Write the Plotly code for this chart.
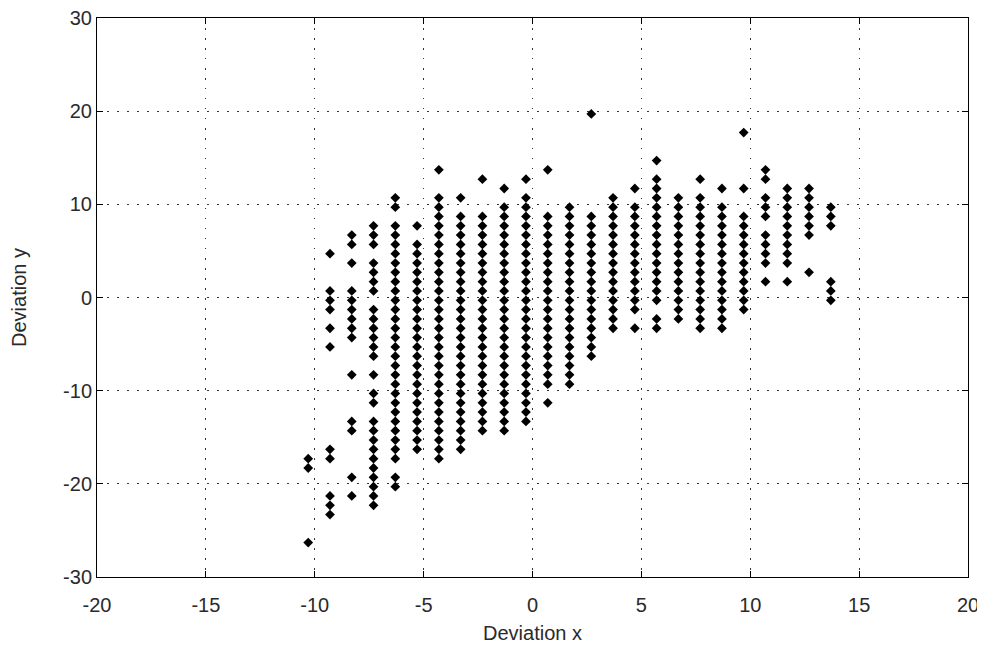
import plotly.graph_objects as go

# Column x positions (Deviation x)
col_x = [-10.3, -9.3, -8.3, -7.3, -6.3, -5.3, -4.3, -3.3, -2.3, -1.3, -0.3, 0.7,
         1.7, 2.7, 3.7, 4.7, 5.7, 6.7, 7.7, 8.7, 9.7, 10.7, 11.7, 12.7, 13.7]

# Deviation y values of the points in each column
y_m10_3 = [-17.3, -18.3, -26.3]
y_m9_3 = [4.7, 0.7, -0.3, -1.3, -3.3, -5.3, -16.3, -17.3, -21.3, -22.3, -23.3]
y_m8_3 = [6.7, 5.7, 3.7, 0.7, -0.3, -1.3, -2.3, -3.3, -4.3, -8.3, -13.3, -14.3,
          -19.3, -21.3]
y_m7_3 = [7.7, 6.7, 5.7, 3.7, 2.7, 1.7, 0.7, -1.3, -2.3, -3.3, -4.3, -5.3, -6.3,
          -8.3, -10.3, -11.3, -13.3, -14.3, -15.3, -16.3, -17.3, -18.3, -19.3,
          -20.3, -21.3, -22.3]
y_m6_3 = [10.7, 9.7, 7.7, 6.7, 5.7, 4.7, 3.7, 2.7, 1.7, 0.7, -0.3, -1.3, -2.3,
          -3.3, -4.3, -5.3, -6.3, -7.3, -8.3, -9.3, -10.3, -11.3, -12.3, -13.3,
          -14.3, -15.3, -16.3, -17.3, -19.3, -20.3]
y_m5_3 = [7.7, 5.7, 4.7, 3.7, 2.7, 1.7, 0.7, -0.3, -1.3, -2.3, -3.3, -4.3, -5.3,
          -6.3, -7.3, -8.3, -9.3, -10.3, -11.3, -12.3, -13.3, -14.3, -15.3, -16.3]
y_m4_3 = [13.7, 10.7, 9.7, 8.7, 7.7, 6.7, 5.7, 4.7, 3.7, 2.7, 1.7, 0.7, -0.3,
          -1.3, -2.3, -3.3, -4.3, -5.3, -6.3, -7.3, -8.3, -9.3, -10.3, -11.3,
          -12.3, -13.3, -14.3, -15.3, -16.3, -17.3]
y_m3_3 = [10.7, 8.7, 7.7, 6.7, 5.7, 4.7, 3.7, 2.7, 1.7, 0.7, -0.3, -1.3, -2.3,
          -3.3, -4.3, -5.3, -6.3, -7.3, -8.3, -9.3, -10.3, -11.3, -12.3, -13.3,
          -14.3, -15.3, -16.3]
y_m2_3 = [12.7, 8.7, 7.7, 6.7, 5.7, 4.7, 3.7, 2.7, 1.7, 0.7, -0.3, -1.3, -2.3,
          -3.3, -4.3, -5.3, -6.3, -7.3, -8.3, -9.3, -10.3, -11.3, -12.3, -13.3,
          -14.3]
y_m1_3 = [11.7, 9.7, 8.7, 7.7, 6.7, 5.7, 4.7, 3.7, 2.7, 1.7, 0.7, -0.3, -1.3,
          -2.3, -3.3, -4.3, -5.3, -6.3, -7.3, -8.3, -9.3, -10.3, -11.3, -12.3,
          -13.3, -14.3]
y_m0_3 = [12.7, 10.7, 9.7, 8.7, 7.7, 6.7, 5.7, 4.7, 3.7, 2.7, 1.7, 0.7, -0.3,
          -1.3, -2.3, -3.3, -4.3, -5.3, -6.3, -7.3, -8.3, -9.3, -10.3, -11.3,
          -12.3, -13.3]
y_p0_7 = [13.7, 8.7, 7.7, 6.7, 5.7, 4.7, 3.7, 2.7, 1.7, 0.7, -0.3, -1.3, -2.3,
          -3.3, -4.3, -5.3, -6.3, -7.3, -8.3, -9.3, -11.3]
y_p1_7 = [9.7, 8.7, 7.7, 6.7, 5.7, 4.7, 3.7, 2.7, 1.7, 0.7, -0.3, -1.3, -2.3,
          -3.3, -4.3, -5.3, -6.3, -7.3, -8.3, -9.3]
y_p2_7 = [19.7, 8.7, 7.7, 6.7, 5.7, 4.7, 3.7, 2.7, 1.7, 0.7, -0.3, -1.3, -2.3,
          -3.3, -4.3, -5.3, -6.3]
y_p3_7 = [10.7, 9.7, 8.7, 7.7, 6.7, 5.7, 4.7, 3.7, 2.7, 1.7, 0.7, -0.3, -1.3,
          -2.3, -3.3]
y_p4_7 = [11.7, 9.7, 8.7, 7.7, 6.7, 5.7, 4.7, 3.7, 2.7, 1.7, 0.7, -0.3, -1.3,
          -3.3]
y_p5_7 = [14.7, 12.7, 11.7, 10.7, 9.7, 8.7, 7.7, 6.7, 5.7, 4.7, 3.7, 2.7, 1.7,
          0.7, -0.3, -2.3, -3.3]
y_p6_7 = [10.7, 9.7, 8.7, 7.7, 6.7, 5.7, 4.7, 3.7, 2.7, 1.7, 0.7, -0.3, -1.3,
          -2.3]
y_p7_7 = [12.7, 10.7, 9.7, 8.7, 7.7, 6.7, 5.7, 4.7, 3.7, 2.7, 1.7, 0.7, -0.3,
          -1.3, -2.3, -3.3]
y_p8_7 = [11.7, 9.7, 8.7, 7.7, 6.7, 5.7, 4.7, 3.7, 2.7, 1.7, 0.7, -0.3, -1.3,
          -2.3, -3.3]
y_p9_7 = [17.7, 11.7, 8.7, 7.7, 6.7, 5.7, 4.7, 3.7, 2.7, 1.7, 0.7, -0.3, -1.3]
y_p10_7 = [13.7, 12.7, 10.7, 9.7, 8.7, 6.7, 5.7, 4.7, 3.7, 1.7]
y_p11_7 = [11.7, 10.7, 9.7, 8.7, 7.7, 6.7, 5.7, 4.7, 3.7, 1.7]
y_p12_7 = [11.7, 10.7, 9.7, 8.7, 7.7, 6.7, 2.7]
y_p13_7 = [9.7, 8.7, 7.7, 1.7, 0.7, -0.3]

col_y = [y_m10_3, y_m9_3, y_m8_3, y_m7_3, y_m6_3, y_m5_3, y_m4_3, y_m3_3,
         y_m2_3, y_m1_3, y_m0_3, y_p0_7, y_p1_7, y_p2_7, y_p3_7, y_p4_7,
         y_p5_7, y_p6_7, y_p7_7, y_p8_7, y_p9_7, y_p10_7, y_p11_7, y_p12_7,
         y_p13_7]

x_ticks = [-20, -15, -10, -5, 0, 5, 10, 15, 20]
x_tick_labels = ["-20", "-15", "-10", "-5", "0", "5", "10", "15", "20"]
y_ticks = [-30, -20, -10, 0, 10, 20, 30]
y_tick_labels = ["-30", "-20", "-10", "0", "10", "20", "30"]

xs, ys = [], []
for cx, cy in zip(col_x, col_y):
    xs.extend([cx] * len(cy))
    ys.extend(cy)

FONT = "Liberation Sans, Arial, sans-serif"
TXT = "#2a2a2a"

fig = go.Figure()
fig.add_trace(go.Scatter(
    x=xs, y=ys, mode="markers",
    marker=dict(symbol="diamond", size=7.5, color="#000000", line=dict(width=0)),
    showlegend=False, hoverinfo="x+y",
))

axis_common = dict(
    showgrid=True, gridcolor="#333333", gridwidth=1, griddash="1.5px,8.5px",
    zeroline=False, showline=True, linecolor="#000000", linewidth=1,
    mirror="ticks", ticks="inside", ticklen=6, tickcolor="#000000",
    tickfont=dict(family=FONT, size=20, color=TXT),
    ticklabeloverflow="allow",
    automargin=False,
)

# The page body adds an 8px offset, so margins are shifted to land the
# plot box at the reference position.
fig.update_layout(
    width=985, height=649,
    margin=dict(l=89, r=25, t=10, b=80),
    paper_bgcolor="#ffffff", plot_bgcolor="#ffffff",
    xaxis=dict(range=[-20, 20], tickvals=x_ticks, ticktext=x_tick_labels,
               ticklabelstandoff=10,
               title=dict(text="Deviation x", font=dict(family=FONT, size=20, color=TXT),
                          standoff=10),
               **axis_common),
    yaxis=dict(range=[-30, 30], tickvals=y_ticks, ticktext=y_tick_labels,
               title=dict(text="Deviation y", font=dict(family=FONT, size=20, color=TXT),
                          standoff=34),
               **axis_common),
)

fig.write_html("out.html")
